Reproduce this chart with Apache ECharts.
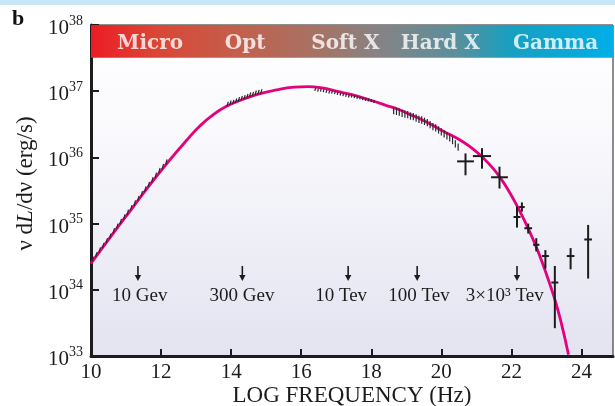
<!DOCTYPE html>
<html>
<head>
<meta charset="utf-8">
<script src="https://cdn.jsdelivr.net/npm/echarts@6/dist/echarts.min.js"></script>
<style>
  html, body { margin: 0; padding: 0; background: #fff; }
  #chart { width: 615px; height: 406px; }
</style>
</head>
<body>
<div id="chart"></div>
<script>
// model spectrum: log frequency (Hz) vs log nu dL/dnu (erg/s)
const modelX = [10.0, 10.6, 11.2, 11.7, 12.2, 12.7, 13.1, 13.5, 13.9, 14.3, 14.8, 15.3, 15.8, 16.2, 16.6,
  17.0, 17.5, 18.0, 18.4, 18.8, 19.1, 19.4, 19.7, 20.0, 20.3, 20.6, 20.9, 21.2, 21.45, 21.7, 21.95, 22.2,
  22.45, 22.7, 22.95, 23.2, 23.4, 23.63]
const modelY = [34.40, 34.83, 35.25, 35.60, 35.93, 36.24, 36.47, 36.65, 36.78, 36.87, 36.96, 37.02, 37.06, 37.07, 37.05,
  37.00, 36.94, 36.86, 36.79, 36.72, 36.65, 36.58, 36.50, 36.41, 36.33, 36.24, 36.13, 35.99, 35.85, 35.68, 35.47, 35.23,
  34.96, 34.66, 34.31, 33.92, 33.55, 33.02]

// hatched observations [log freq, log L]
const radioHatch = [[10.05, 34.43], [10.15, 34.50], [10.25, 34.57], [10.35, 34.64], [10.45, 34.71], [10.55, 34.78],
  [10.65, 34.86], [10.75, 34.93], [10.85, 35.00], [10.95, 35.07], [11.05, 35.14], [11.15, 35.21], [11.25, 35.28],
  [11.35, 35.35], [11.45, 35.42], [11.55, 35.49], [11.65, 35.56], [11.75, 35.63], [11.85, 35.70], [11.95, 35.77],
  [12.05, 35.83], [12.15, 35.90]]
const optHatch = [[13.90, 36.78], [13.98, 36.80], [14.06, 36.81], [14.14, 36.83], [14.22, 36.85], [14.30, 36.87],
  [14.38, 36.88], [14.46, 36.90], [14.54, 36.92], [14.62, 36.93], [14.70, 36.95], [14.78, 36.96], [14.86, 36.97]]
const softHatch = [[16.40, 37.03], [16.48, 37.02], [16.56, 37.02], [16.64, 37.01], [16.72, 37.00], [16.80, 36.99],
  [16.88, 36.99], [16.96, 36.98], [17.04, 36.97], [17.12, 36.96], [17.20, 36.95], [17.28, 36.94], [17.36, 36.93],
  [17.44, 36.93], [17.52, 36.92], [17.60, 36.91], [17.68, 36.90], [17.76, 36.89], [17.84, 36.88], [17.92, 36.87],
  [18.00, 36.86], [18.08, 36.85]]
const hardHatch = [[18.64, 36.73], [18.72, 36.72], [18.80, 36.71], [18.88, 36.69], [18.96, 36.68], [19.04, 36.67],
  [19.12, 36.65], [19.20, 36.64], [19.28, 36.62], [19.36, 36.60], [19.44, 36.59], [19.52, 36.57], [19.60, 36.55],
  [19.68, 36.52], [19.76, 36.49], [19.84, 36.47], [19.92, 36.44], [20.00, 36.41], [20.08, 36.38], [20.16, 36.35],
  [20.24, 36.32], [20.32, 36.28], [20.40, 36.23], [20.48, 36.18]]

// gamma-ray points with error bars
const gammaX = [20.69, 21.16, 21.66, 22.16, 22.30, 22.48, 22.71, 22.97, 23.24, 23.69, 24.19]
const gammaXErr = [0.24, 0.26, 0.24, 0.10, 0.08, 0.11, 0.09, 0.10, 0.10, 0.11, 0.11]
const gammaY = [35.94, 36.02, 35.70, 35.10, 35.25, 34.93, 34.68, 34.51, 34.11, 34.51, 34.76]
const gammaYLow = [35.73, 35.83, 35.53, 34.94, 35.18, 34.85, 34.58, 34.32, 33.42, 34.31, 34.17]
const gammaYHigh = [36.06, 36.14, 35.86, 35.26, 35.32, 35.00, 34.78, 34.60, 34.36, 34.63, 34.98]

// energy markers
const arrowX = [11.34, 14.32, 17.34, 19.31, 22.16]
const arrowLabelX = [11.39, 14.31, 17.14, 19.36, 21.81]
const arrowLabels = ['10 Gev', '300 Gev', '10 Tev', '100 Tev', '3×10³ Tev']

// spectral band names
const bandNames = ['Micro', 'Opt', 'Soft X', 'Hard X', 'Gamma']
const bandX = [11.69, 14.40, 17.26, 19.97, 23.26]

const SERIF = '"Liberation Serif", "DejaVu Serif", serif'
const INK = '#1c1c1c'
const pow = v => Math.pow(10, v)

const chart = echarts.init(document.getElementById('chart'))

// short tick marks; lo/hi are offsets (dex) below/above the point, slant in x units
function hatchSeries(points, lo, hi, slant) {
  return {
    type: 'custom',
    silent: true,
    z: 6,
    data: points.map(p => [p[0], pow(p[1])]),
    renderItem: (params, api) => {
      const x = api.value(0), v = api.value(1)
      const a = api.coord([x - slant, v / pow(lo)])
      const b = api.coord([x + slant, v * pow(hi)])
      return {
        type: 'line',
        shape: { x1: a[0], y1: a[1], x2: b[0], y2: b[1] },
        style: { stroke: '#2a2a2a', lineWidth: 1.2 }
      }
    }
  }
}

const option = {
  animation: false,
  backgroundColor: '#fff',
  grid: {
    left: 91, right: 2, top: 25, bottom: 50,
    outerBoundsMode: 'none',
    show: true,
    borderColor: INK,
    borderWidth: 1,
    backgroundColor: new echarts.graphic.LinearGradient(0, 0, 0, 1, [
      { offset: 0, color: '#ffffff' },
      { offset: 0.3, color: '#fafafd' },
      { offset: 1, color: '#e3e3f1' }
    ])
  },
  graphic: [
    { type: 'rect', left: 0, top: 0, shape: { width: 615, height: 5 }, style: { fill: '#c7e6f6' } },
    { type: 'text', left: 12, top: 8, style: { text: 'b', font: 'bold 22px ' + SERIF, fill: '#111' } }
  ],
  xAxis: {
    type: 'value',
    min: 10,
    max: 24.9,
    interval: 2,
    axisLine: { lineStyle: { color: INK, width: 3 } },
    axisTick: { inside: true, length: 7, lineStyle: { color: INK, width: 2 } },
    splitLine: { show: false },
    axisLabel: {
      margin: 6,
      showMaxLabel: false,
      formatter: v => (v % 2 === 0 ? String(v) : ''),
      fontFamily: SERIF, fontSize: 21, color: INK
    },
    name: 'LOG FREQUENCY (Hz)',
    nameLocation: 'middle',
    nameGap: 28,
    nameMoveOverlap: false,
    nameTextStyle: { fontFamily: SERIF, fontSize: 23, color: INK }
  },
  yAxis: {
    type: 'log',
    logBase: 10,
    min: 1e33,
    max: 1e38,
    axisLine: { lineStyle: { color: INK, width: 3 } },
    axisTick: { inside: true, length: 8, lineStyle: { color: INK, width: 2 } },
    splitLine: { show: false },
    minorTick: { show: false },
    axisLabel: {
      margin: 8,
      formatter: v => '{b|10}{s|' + Math.round(Math.log10(v)) + '}',
      rich: {
        b: { fontFamily: SERIF, fontSize: 21, color: INK, padding: [7, 0, 0, 0] },
        s: { fontFamily: SERIF, fontSize: 14, color: INK, padding: [0, 0, 8, 0] }
      }
    },
    name: 'ν d{i|L}/dν (erg/s)',
    nameLocation: 'middle',
    nameGap: 47,
    nameTextStyle: {
      fontFamily: SERIF, fontSize: 23, color: INK,
      padding: [0, 0, 0, 14],
      rich: { i: { fontFamily: SERIF, fontSize: 23, fontStyle: 'italic', color: INK } }
    }
  },
  series: [
    {
      // band labels and the coloured band
      type: 'scatter',
      silent: true,
      symbolSize: 1,
      itemStyle: { color: 'rgba(0,0,0,0)' },
      z: 4,
      data: bandX.map(x => [x, pow(37.72)]),
      label: {
        show: true,
        position: 'inside',
        formatter: p => bandNames[p.dataIndex],
        fontFamily: '"DejaVu Serif", serif',
        fontWeight: 'bold',
        fontSize: 20,
        color: '#fff'
      },
      markArea: {
        silent: true,
        itemStyle: {
          color: new echarts.graphic.LinearGradient(0, 0, 1, 0, [
            { offset: 0, color: '#ec1c24' },
            { offset: 0.12, color: '#dc4535' },
            { offset: 0.3, color: '#c0624f' },
            { offset: 0.45, color: '#a27568' },
            { offset: 0.55, color: '#868384' },
            { offset: 0.7, color: '#5a8f9c' },
            { offset: 0.8, color: '#199fbf' },
            { offset: 1, color: '#00aee8' }
          ])
        },
        data: [[{ coord: [10, pow(37.506)] }, { coord: [24.9, 1e38] }]]
      }
    },
    {
      type: 'line',
      smooth: 0.5,
      symbol: 'none',
      silent: true,
      z: 5,
      lineStyle: { color: '#e5007d', width: 2.8 },
      data: modelX.map((x, i) => [x, pow(modelY[i])])
    },
    hatchSeries(radioHatch, 0.01, 0.07, 0.02),
    hatchSeries(optHatch, 0.01, 0.06, 0.02),
    hatchSeries(softHatch, 0.025, 0.02, 0.01),
    hatchSeries(hardHatch, 0.08, 0.03, 0),
    {
      type: 'custom',
      silent: true,
      z: 6,
      data: gammaX.map((x, i) => [x, pow(gammaY[i]), gammaXErr[i], pow(gammaYLow[i]), pow(gammaYHigh[i])]),
      renderItem: (params, api) => {
        const x = api.value(0), y = api.value(1), xe = api.value(2)
        const l = api.coord([x - xe, y]), r = api.coord([x + xe, y])
        const lo = api.coord([x, api.value(3)]), hi = api.coord([x, api.value(4)])
        const st = { stroke: INK, lineWidth: 2 }
        return {
          type: 'group',
          children: [
            { type: 'line', shape: { x1: l[0], y1: l[1], x2: r[0], y2: r[1] }, style: st },
            { type: 'line', shape: { x1: lo[0], y1: lo[1], x2: hi[0], y2: hi[1] }, style: st }
          ]
        }
      }
    },
    {
      type: 'custom',
      silent: true,
      z: 6,
      data: arrowX.map((x, i) => [x, pow(34.36), arrowLabelX[i]]),
      renderItem: (params, api) => {
        const top = api.coord([api.value(0), api.value(1)])
        const lab = api.coord([api.value(2), api.value(1)])
        const tipY = top[1] + 15
        return {
          type: 'group',
          children: [
            { type: 'line', shape: { x1: top[0], y1: top[1], x2: top[0], y2: tipY - 4 },
              style: { stroke: INK, lineWidth: 1.6 } },
            { type: 'polygon', shape: { points: [[top[0] - 3.2, tipY - 6], [top[0] + 3.2, tipY - 6], [top[0], tipY]] },
              style: { fill: INK } },
            { type: 'text', x: lab[0], y: top[1] + 30,
              style: { text: arrowLabels[params.dataIndex], font: '19px ' + SERIF, fill: INK,
                       align: 'center', verticalAlign: 'middle' } }
          ]
        }
      }
    }
  ]
}

chart.setOption(option)
</script>
</body>
</html>
